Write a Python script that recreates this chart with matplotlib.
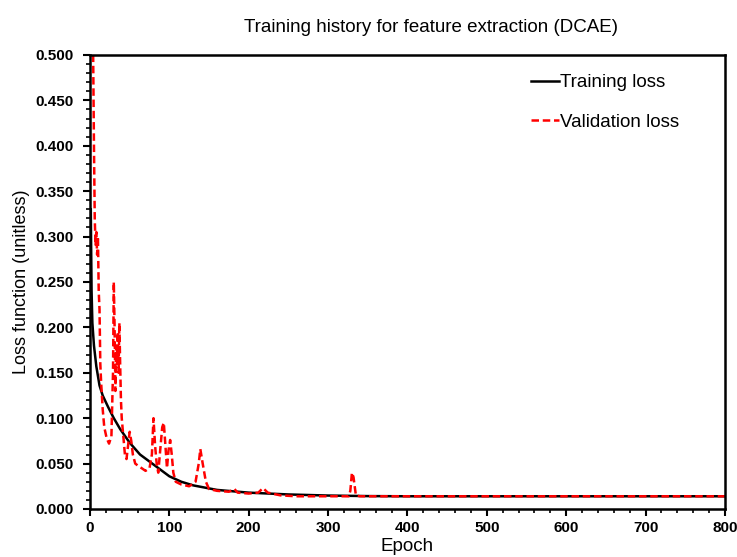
import matplotlib.pyplot as plt
from matplotlib.ticker import MultipleLocator, FormatStrFormatter

plt.rcParams['font.family'] = ['Liberation Sans', 'DejaVu Sans']

# Training loss
epoca_train = [1, 2, 3, 5, 8, 12, 16, 23, 30, 38, 50, 63, 80, 100, 115, 130, 160,
               200, 250, 300, 350, 400, 500, 600, 700, 800]
loss_train = [0.33, 0.24, 0.205, 0.18, 0.157, 0.136, 0.125, 0.112, 0.100, 0.088,
              0.073, 0.060, 0.049, 0.036, 0.030, 0.026, 0.021, 0.018, 0.016,
              0.0148, 0.0142, 0.014, 0.014, 0.014, 0.014, 0.014]

# Validation loss
epoca_val = [3, 4, 5, 6, 7, 8, 9, 10, 11, 12, 13, 14, 16, 18, 21, 24, 27, 29, 30,
             31, 32, 33, 34, 35, 36, 37, 38, 39, 40, 42, 44, 46, 48, 50, 52, 54,
             57, 60, 65, 70, 75, 78, 80, 82, 84, 86, 88, 91, 93, 95, 97, 99, 101,
             103, 105, 108, 115, 125, 133, 137, 139, 142, 146, 150, 160, 175, 182,
             186, 200, 212, 218, 224, 240, 260, 300, 326, 328, 330, 332, 335, 340,
             400, 500, 600, 700, 800]
loss_val = [0.55, 0.50, 0.40, 0.32, 0.29, 0.305, 0.28, 0.30, 0.24, 0.22, 0.16,
            0.14, 0.11, 0.09, 0.078, 0.072, 0.08, 0.15, 0.25, 0.20, 0.13, 0.18,
            0.16, 0.195, 0.15, 0.205, 0.16, 0.12, 0.10, 0.08, 0.06, 0.055, 0.07,
            0.085, 0.075, 0.06, 0.05, 0.048, 0.045, 0.042, 0.045, 0.06, 0.10,
            0.07, 0.05, 0.04, 0.06, 0.09, 0.095, 0.07, 0.045, 0.065, 0.076, 0.06,
            0.04, 0.03, 0.027, 0.025, 0.03, 0.05, 0.066, 0.05, 0.03, 0.022, 0.02,
            0.019, 0.022, 0.018, 0.017, 0.018, 0.023, 0.018, 0.015, 0.014, 0.014,
            0.014, 0.02, 0.04, 0.035, 0.015, 0.014, 0.014, 0.014, 0.014, 0.014,
            0.014]

fig = plt.figure(figsize=(7.37, 5.57), dpi=100)
ax = fig.add_axes([0.1221, 0.0862, 0.8616, 0.8151])

ax.plot(epoca_train, loss_train, color='black', lw=1.8, label='Training loss')
ax.plot(epoca_val, loss_val, color='red', lw=1.8, ls=(0, (3, 1.5)), label='Validation loss')

ax.set_xlim(0, 800)
ax.set_ylim(0, 0.5)
ax.xaxis.set_major_locator(MultipleLocator(100))
ax.xaxis.set_minor_locator(MultipleLocator(20))
ax.yaxis.set_major_locator(MultipleLocator(0.05))
ax.yaxis.set_minor_locator(MultipleLocator(0.01))
ax.yaxis.set_major_formatter(FormatStrFormatter('%.3f'))

ax.tick_params(which='major', direction='out', length=5, width=1.5, labelsize=11)
ax.tick_params(axis='y', which='major', pad=7)
ax.tick_params(which='minor', direction='out', length=3, width=1.2)
for lbl in ax.get_xticklabels() + ax.get_yticklabels():
    lbl.set_fontweight('bold')
for s in ax.spines.values():
    s.set_linewidth(1.8)

ax.set_xlabel('Epoch', fontsize=13.5, labelpad=2)
ax.set_ylabel('Loss function (unitless)', fontsize=13, labelpad=4)
fig.text(431 / 737, 1 - 27 / 557, 'Training history for feature extraction (DCAE)',
         ha='center', va='center', fontsize=13.5)

ax.legend(loc='upper right', frameon=False, fontsize=13.5, handlelength=1.5,
          handletextpad=0.05, labelspacing=1.2, bbox_to_anchor=(0.955, 0.995))

fig.savefig('out.png', dpi=100)
